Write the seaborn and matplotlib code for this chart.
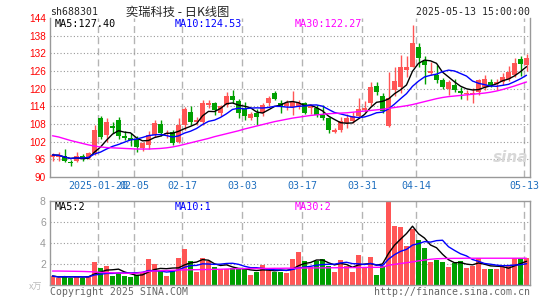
import numpy as np
import pandas as pd
import matplotlib
matplotlib.use("Agg")
import matplotlib.pyplot as plt
import seaborn as sns

# daily candles (index 0 = 2025-01-08)
opens = [96.8, 96.9, 97.2, 95.0, 95.6, 97.2, 96.3, 98.0, 110.0, 104.2,
         107.4, 109.2, 104.0, 103.4, 103.0, 99.8, 100.8, 104.2, 108.0, 104.5,
         105.3, 102.0, 107.5, 112.1, 108.6, 108.8, 114.3, 115.2, 111.8, 114.4,
         117.4, 115.9, 113.0, 110.0, 111.8, 111.6, 115.0, 118.4, 115.2, 114.1,
         113.8, 113.8, 115.2, 113.3, 113.3, 111.0, 109.9, 105.3, 105.8, 108.2,
         109.0, 110.6, 112.6, 115.0, 120.8, 117.4, 107.3, 119.5, 120.5, 126.3,
         127.5, 134.0, 129.5, 125.3, 124.7, 122.9, 119.8, 121.4, 119.1, 118.1,
         118.1, 118.9, 120.6, 122.1, 121.5, 122.3, 123.4, 124.6, 130.2, 128.0]
closes = [97.5, 97.3, 95.6, 94.8, 97.3, 96.2, 98.0, 105.9, 103.5, 108.8,
          106.6, 103.8, 103.4, 102.4, 100.2, 101.6, 104.4, 108.4, 104.9, 105.0,
          101.6, 107.6, 113.0, 108.8, 109.4, 115.0, 115.2, 112.7, 114.1, 117.4,
          116.3, 111.6, 110.8, 111.5, 110.3, 114.4, 117.0, 116.6, 113.8, 115.2,
          115.6, 115.0, 111.8, 114.4, 111.0, 110.1, 106.1, 106.1, 109.0, 110.0,
          110.6, 113.0, 113.6, 120.6, 119.0, 112.3, 117.0, 122.5, 127.2, 127.3,
          135.5, 130.5, 128.0, 126.0, 123.0, 120.6, 122.3, 119.7, 118.6, 118.6,
          118.6, 122.9, 123.4, 121.2, 122.1, 123.8, 125.8, 128.8, 128.4, 130.5]
highs = [98.2, 98.4, 99.5, 95.8, 98.4, 97.8, 98.6, 107.6, 110.6, 110.2,
         108.8, 110.4, 105.6, 105.0, 104.0, 102.0, 105.5, 109.3, 109.2, 106.0,
         105.8, 110.0, 113.8, 114.0, 110.5, 116.0, 116.0, 115.6, 114.6, 118.9,
         119.5, 116.5, 115.5, 112.2, 113.2, 115.2, 117.6, 119.2, 116.2, 116.0,
         119.2, 116.0, 115.6, 114.8, 114.6, 114.5, 110.4, 106.8, 110.5, 111.4,
         112.0, 117.0, 115.8, 122.2, 122.1, 118.5, 125.5, 127.5, 131.5, 131.0,
         141.5, 135.5, 131.0, 129.0, 128.0, 123.6, 122.8, 123.3, 120.5, 119.4,
         120.3, 123.4, 124.6, 123.4, 123.4, 125.2, 127.8, 130.5, 131.0, 131.8]
lows = [95.3, 95.6, 95.2, 93.8, 95.0, 95.6, 96.0, 97.5, 102.8, 101.8,
        104.8, 103.0, 102.6, 100.5, 98.6, 98.8, 99.5, 103.5, 104.0, 103.4,
        101.0, 101.4, 106.0, 107.5, 107.5, 107.8, 113.5, 111.0, 110.8, 113.8,
        115.0, 110.0, 109.5, 109.4, 107.8, 110.8, 114.0, 116.0, 111.6, 112.6,
        111.2, 113.0, 111.4, 111.4, 110.4, 109.2, 104.9, 104.8, 105.2, 106.5,
        108.4, 110.0, 112.0, 114.0, 117.8, 111.8, 107.0, 117.5, 118.5, 124.0,
        127.3, 127.3, 121.5, 124.5, 122.0, 119.8, 117.8, 118.9, 116.5, 116.2,
        115.3, 117.8, 119.5, 120.4, 119.6, 121.2, 122.7, 124.0, 124.2, 126.0]
volumes = [0.86, 0.67, 0.86, 0.70, 0.86, 0.70, 0.79, 2.20, 1.60, 1.80,
           0.86, 1.10, 0.86, 0.76, 1.00, 1.10, 2.50, 2.00, 1.30, 0.86,
           1.40, 2.60, 3.40, 2.30, 1.20, 2.60, 2.30, 1.70, 1.50, 1.50,
           1.60, 1.60, 1.55, 0.95, 1.20, 1.90, 1.50, 1.20, 1.26, 1.10,
           2.50, 3.10, 2.30, 1.70, 2.30, 2.50, 1.80, 1.26, 2.40, 1.80,
           1.20, 2.90, 1.65, 2.67, 1.00, 1.80, 7.90, 5.60, 5.50, 3.70,
           5.30, 4.30, 3.55, 2.20, 2.40, 2.20, 1.70, 2.10, 2.30, 1.65,
           1.85, 2.60, 1.50, 1.50, 1.50, 1.70, 1.80, 2.60, 2.60, 2.60]
# 30 day averages need history before the window, so read them off directly
ma30_price = [104.0, 103.6, 103.0, 102.4, 101.9, 101.4, 100.9, 100.5, 100.2, 100.0,
              99.9, 99.8, 99.7, 99.6, 99.5, 99.5, 99.5, 99.6, 99.7, 99.9,
              100.2, 100.6, 101.1, 101.6, 102.1, 102.6, 103.1, 103.7, 104.2, 104.7,
              105.2, 105.7, 106.3, 106.8, 107.3, 107.8, 108.3, 108.8, 109.2, 109.6,
              110.0, 110.3, 110.6, 110.9, 111.1, 111.3, 111.5, 111.6, 111.7, 111.8,
              112.0, 112.2, 112.4, 112.6, 112.8, 113.0, 113.3, 113.6, 113.9, 114.2,
              114.6, 115.1, 115.6, 116.1, 116.6, 117.0, 117.3, 117.5, 117.7, 117.9,
              118.1, 118.3, 118.5, 118.8, 119.2, 119.7, 120.3, 120.9, 121.6, 122.27]
ma30_vol = [1.33, 1.33, 1.32, 1.31, 1.30, 1.29, 1.27, 1.25, 1.20, 1.18,
            1.16, 1.14, 1.12, 1.11, 1.12, 1.20, 1.30, 1.34, 1.36, 1.38,
            1.40, 1.42, 1.44, 1.45, 1.46, 1.47, 1.48, 1.49, 1.50, 1.52,
            1.54, 1.55, 1.56, 1.57, 1.57, 1.58, 1.58, 1.59, 1.59, 1.60,
            1.60, 1.61, 1.62, 1.62, 1.63, 1.63, 1.64, 1.64, 1.65, 1.65,
            1.66, 1.66, 1.67, 1.68, 1.68, 1.70, 1.88, 1.97, 2.05, 2.12,
            2.20, 2.30, 2.38, 2.45, 2.50, 2.52, 2.53, 2.54, 2.54, 2.55,
            2.55, 2.55, 2.55, 2.55, 2.55, 2.55, 2.55, 2.55, 2.55, 2.55]

tick_idx = [8, 14, 22, 32, 42, 52, 61, 79]
tick_labels = ["2025-01-20", "02-05", "02-17", "03-03", "03-17", "03-31", "04-14", "05-13"]
price_ticks = [90, 96, 102, 108, 114, 120, 126, 132, 138, 144]
vol_ticks = [2, 4, 6, 8]

df = pd.DataFrame({"open": opens, "high": highs, "low": lows, "close": closes,
                   "vol": volumes, "ma30": ma30_price, "vma30": ma30_vol})
df["i"] = np.arange(len(df))
df["ma5"] = df.close.rolling(5, min_periods=1).mean()
df["ma10"] = df.close.rolling(10, min_periods=1).mean()
df["vma5"] = df.vol.rolling(5, min_periods=1).mean()
df["vma10"] = df.vol.rolling(10, min_periods=1).mean()

RED = "#ff5555"
GREEN = "#00a000"
up = df.close >= df.open
colors = np.where(up, RED, GREEN)

sns.set_style("white")
plt.rcParams["font.family"] = ["DejaVu Sans Mono", "Noto Sans CJK SC"]

W, H = 545, 300
fig = plt.figure(figsize=(W / 100, H / 100), dpi=100)
ax = fig.add_axes([50 / W, 1 - 177 / H, 480 / W, 159 / H])
axv = fig.add_axes([50 / W, 1 - 285 / H, 480 / W, 84 / H])

x0, x1 = -0.417, 79.583
grid_x = [i - 0.417 for i in tick_idx]

for a in (ax, axv):
    a.set_xlim(x0, x1)
    for gx in grid_x:
        a.axvline(gx, color="#b4b4b4", lw=1, ls=(0, (5, 3)), zorder=0)
    for s in a.spines.values():
        s.set_color("#999999")
        s.set_linewidth(1)
    a.tick_params(length=0)

# price panel
ax.set_ylim(90, 144)
for y in price_ticks[1:-1]:
    ax.axhline(y, color="#999999", lw=0.8, ls=(0, (1, 2)), zorder=0)
ax.vlines(df.i, df.low, df.high, colors=colors, lw=1, zorder=2)
body = np.maximum((df.close - df.open).abs(), 0.3)
ax.bar(df.i, body, bottom=np.minimum(df.open, df.close), width=0.8,
       color=colors, linewidth=0, zorder=3)
sns.lineplot(data=df, x="i", y="ma5", color="black", lw=1, ax=ax, zorder=4)
sns.lineplot(data=df, x="i", y="ma10", color="#0000ff", lw=1, ax=ax, zorder=4)
sns.lineplot(data=df, x="i", y="ma30", color="#ff00ff", lw=1, ax=ax, zorder=4)
ax.set_xlabel("")
ax.set_ylabel("")
ax.spines["top"].set_visible(False)
ax.set_yticks(price_ticks)
ax.set_yticklabels([str(t) for t in price_ticks], color="red",
                   family="Liberation Sans", fontsize=7.2)
ax.tick_params(axis="y", pad=3)
ax.set_xticks(grid_x)
ax.set_xticklabels(tick_labels, color="#1f6fbf", fontsize=7.2)
ax.tick_params(axis="x", pad=3)

ax.text(0.0104, 0.962, "MA5:127.40", transform=ax.transAxes, color="black",
        fontsize=7.3, va="center")
ax.text(0.26, 0.962, "MA10:124.53", transform=ax.transAxes, color="#0000ff",
        fontsize=7.3, va="center")
ax.text(0.51, 0.962, "MA30:122.27", transform=ax.transAxes, color="#ff00ff",
        fontsize=7.3, va="center")
ax.text(0.996, 0.12, "sina", transform=ax.transAxes, color="#d8d8d8",
        fontsize=11, fontstyle="italic", fontweight="bold",
        family="DejaVu Sans", ha="right", va="center")

# volume panel
axv.set_ylim(0, 8)
for y in vol_ticks[:-1]:
    axv.axhline(y, color="#999999", lw=0.8, ls=(0, (1, 2)), zorder=0)
axv.bar(df.i, df.vol, width=0.83, color=colors, linewidth=0, zorder=2)
sns.lineplot(data=df, x="i", y="vma5", color="black", lw=1, ax=axv, zorder=4)
sns.lineplot(data=df, x="i", y="vma10", color="#0000ff", lw=1, ax=axv, zorder=4)
sns.lineplot(data=df, x="i", y="vma30", color="#ff00ff", lw=1, ax=axv, zorder=4)
axv.set_xlabel("")
axv.set_ylabel("")
axv.set_xticks([])
axv.set_yticks(vol_ticks)
axv.set_yticklabels([str(t) for t in vol_ticks], color="#999999",
                    family="Liberation Sans", fontsize=7.5)
axv.tick_params(axis="y", pad=3)
axv.text(0.0104, 0.93, "MA5:2", transform=axv.transAxes, color="black",
         fontsize=7.3, va="center")
axv.text(0.26, 0.93, "MA10:1", transform=axv.transAxes, color="#0000ff",
         fontsize=7.3, va="center")
axv.text(0.51, 0.93, "MA30:2", transform=axv.transAxes, color="#ff00ff",
         fontsize=7.3, va="center")

# header and footer
fig.text(50 / W, 1 - 12 / H, "sh688301", fontsize=7.1, va="center")
fig.text(178 / W, 1 - 12 / H, "奕瑞科技 - 日K线图", fontsize=8.8, va="center",
         ha="center", family=["Noto Sans CJK SC", "DejaVu Sans"])
fig.text(530 / W, 1 - 12 / H, "2025-05-13 15:00:00", fontsize=7.1,
         va="center", ha="right")
fig.text(36 / W, 1 - 287 / H, "x万", fontsize=6.5, va="center", ha="center",
         color="#bbbbbb", family=["Noto Sans CJK SC", "DejaVu Sans"])
fig.text(50 / W, 1 - 292 / H, "Copyright 2025 SINA.COM", fontsize=7.1,
         va="center", color="#666666")
fig.text(530 / W, 1 - 292 / H, "http://finance.sina.com.cn", fontsize=7.1,
         va="center", ha="right", color="#666666")

fig.savefig("out.png", dpi=100)
